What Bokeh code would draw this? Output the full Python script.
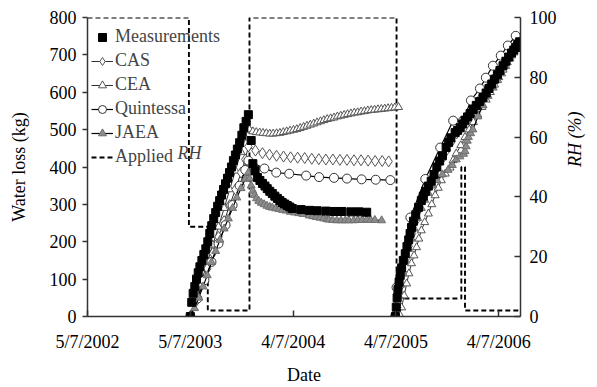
import math
from bokeh.plotting import figure
from bokeh.models import Range1d, LinearAxis, FixedTicker, Legend, LegendItem, Label
from bokeh.embed import file_html
from bokeh.resources import INLINE

# x values: days since 5/7/2002 (d/m/y)
tick_days = [0, 365, 730, 1095, 1460]
tick_labels = ["5/7/2002", "5/7/2003", "4/7/2004", "4/7/2005", "4/7/2006"]
kg_ticks = [0, 100, 200, 300, 400, 500, 600, 700, 800]
rh_ticks = [0, 20, 40, 60, 80, 100]

# Applied RH (%)
rh_day = [0, 360, 360, 427, 427, 575, 575, 1097, 1097, 1327, 1327, 1340, 1340, 1537]
rh_val = [100, 100, 30, 30, 2, 2, 100, 100, 6, 6, 50, 50, 2, 2]

# Measurements (kg)
meas_day_1 = [365, 370, 375, 381, 387, 393, 399, 406, 413, 420, 427, 434, 441, 448, 455, 462, 469, 476, 483,
              490, 497, 504, 511, 518, 525, 532, 540, 548, 555, 563, 571,
              581, 587, 595, 603, 612, 621, 630, 638, 647, 656, 665, 674, 683, 691, 700, 709, 718, 727,
              758, 787, 815, 846, 875, 903, 935, 963, 991]
meas_kg_1 = [0, 38, 62, 80, 100, 117, 133, 150, 166, 181, 200, 222, 243, 262, 278, 295, 310, 325, 340,
             355, 370, 385, 400, 417, 432, 448, 465, 485, 505, 522, 540,
             471, 409, 390, 372, 364, 356, 349, 342, 335, 329, 322, 316, 310, 305, 301, 297, 293, 289,
             286, 284, 283, 282, 281, 281, 280, 280, 279]
meas_day_2 = [1093, 1096, 1099, 1102, 1106, 1110, 1115, 1121, 1128, 1134, 1140, 1145, 1150, 1157, 1165, 1175,
              1185, 1192, 1200, 1210, 1220, 1230, 1240, 1250, 1260, 1273, 1282, 1290, 1305, 1314, 1323, 1332,
              1340, 1349, 1358, 1369, 1380, 1392, 1404, 1415, 1425, 1435, 1445, 1455, 1464, 1475, 1485, 1495,
              1505, 1513, 1520, 1527, 1534]
meas_kg_2 = [0, 25, 50, 72, 92, 110, 130, 150, 168, 187, 205, 222, 238, 255, 272, 292,
             310, 322, 335, 349, 362, 380, 400, 416, 430, 452, 466, 478, 492, 498, 505, 515,
             525, 534, 543, 554, 565, 575, 586, 598, 610, 622, 635, 647, 658, 671, 683, 694,
             705, 713, 720, 728, 735]

# CAS
cas_day_1 = [365, 385, 405, 425, 445, 465, 485, 505, 525, 545, 560, 571,
             596, 621, 646, 671, 696, 721, 746, 771, 796, 821, 846, 871, 896, 921, 946, 971, 996, 1021, 1046, 1069]
cas_kg_1 = [0, 40, 85, 128, 170, 213, 255, 298, 340, 385, 420, 455,
            444, 437, 433, 430, 428, 426, 425, 424, 422, 421, 420, 420, 419, 419, 418, 418, 417, 416, 416, 415]
cas_day_2 = [1093, 1100, 1110, 1120, 1130, 1140, 1152, 1165, 1180, 1195, 1210, 1225, 1240, 1258, 1275, 1292,
             1310, 1330, 1350, 1370, 1390, 1410, 1430, 1450, 1470, 1490, 1510, 1530]
cas_kg_2 = [0, 35, 80, 118, 155, 188, 222, 255, 290, 320, 348, 372, 395, 420, 445, 468,
            490, 512, 535, 557, 578, 600, 622, 645, 667, 690, 712, 733]

# CEA
cea_day_1 = [365, 385, 405, 425, 445, 465, 485, 505, 525, 545, 560, 571,
             575, 587, 599, 611, 623, 635, 647, 659, 671, 683, 695, 707, 719, 731, 743, 755, 767, 779, 791,
             803, 815, 827, 839, 851, 863, 875, 887, 899, 911, 923, 935, 947, 959, 971, 983, 995, 1007, 1019,
             1031, 1043, 1055, 1067, 1079, 1091, 1104]
cea_kg_1 = [0, 45, 95, 143, 192, 240, 290, 340, 390, 440, 478, 505,
            500, 495, 493, 492, 491, 490, 489, 489, 490, 491, 493, 495, 497, 499, 501, 504, 507, 510, 513,
            516, 519, 522, 525, 528, 530, 532, 535, 537, 539, 541, 543, 545, 546, 548, 549, 551, 552, 553,
            554, 555, 556, 557, 558, 559, 560]
cea_day_2 = [1093, 1100, 1108, 1115, 1124, 1133, 1141, 1150, 1159, 1168, 1176, 1185, 1197, 1210, 1222, 1234,
             1245, 1256, 1270, 1287, 1298, 1309, 1325, 1340, 1355, 1370, 1385, 1400, 1415, 1430, 1445, 1460,
             1475, 1490, 1505, 1520, 1535]
cea_kg_2 = [0, 0, 5, 24, 56, 88, 115, 142, 163, 185, 208, 230, 252, 275, 300, 324,
            344, 364, 382, 398, 418, 436, 458, 480, 500, 520, 540, 560, 580, 600, 620, 640,
            660, 680, 698, 715, 732]

# Quintessa
qui_day_1 = [365, 390, 415, 440, 465, 490, 515, 540, 560, 571,
             628, 670, 716, 776, 822, 875, 921, 973, 1023, 1075]
qui_kg_1 = [0, 48, 97, 146, 195, 245, 298, 350, 392, 417,
            396, 385, 382, 377, 373, 371, 369, 367, 366, 365]
qui_day_2 = [1092, 1097, 1146, 1199, 1252, 1298, 1333, 1361, 1393, 1414, 1439, 1467, 1492, 1520]
qui_kg_2 = [0, 78, 265, 368, 452, 524, 524, 578, 610, 639, 671, 698, 725, 751]

# JAEA
jaea_day_1 = [365, 380, 395, 410, 425, 440, 455, 470, 485, 500, 515, 530, 545, 560, 571,
              575, 581, 587, 593, 600, 608, 617, 627, 637, 647, 656, 668, 680, 692, 705, 720, 735, 750, 765,
              787, 800, 812, 825, 838, 850, 857, 870, 885, 900, 915, 928, 945, 960, 975, 991, 1005, 1020, 1044]
jaea_kg_1 = [0, 22, 50, 80, 110, 145, 175, 205, 235, 262, 290, 318, 343, 368, 385,
             369, 350, 336, 325, 316, 309, 304, 300, 296, 293, 291, 289, 287, 285, 283, 280, 278, 276, 274,
             270, 268, 266, 264, 262, 260, 259, 258, 257, 257, 257, 257, 257, 258, 258, 259, 258, 258, 257]
jaea_day_2 = [1093, 1099, 1105, 1112, 1120, 1130, 1140, 1150, 1160, 1172, 1185, 1197, 1210, 1225, 1240, 1260,
              1280, 1295, 1309, 1322, 1335, 1340, 1344, 1348, 1352, 1360, 1368, 1386, 1404, 1422, 1440, 1456,
              1470, 1485, 1500, 1514, 1527, 1536]
jaea_kg_2 = [0, 30, 55, 85, 115, 150, 180, 208, 235, 263, 290, 312, 330, 350, 365, 380,
             392, 405, 420, 428, 435, 442, 455, 470, 480, 490, 500, 535, 565, 590, 612, 632,
             650, 670, 690, 706, 722, 735]

FONT = "Liberation Serif"
NAN = float("nan")

p = figure(width=597, height=387, output_backend="svg", toolbar_location=None,
           x_range=Range1d(0, 1537), y_range=Range1d(0, 800),
           min_border_left=87, min_border_right=74, min_border_top=17, min_border_bottom=71)
p.outline_line_color = None
p.xgrid.grid_line_color = None
p.ygrid.grid_line_color = None
p.background_fill_color = "white"
p.extra_y_ranges = {"rh": Range1d(0, 100)}

AX = "#333333"
xa = p.xaxis[0]
xa.ticker = FixedTicker(ticks=tick_days)
xa.major_label_overrides = {d: l for d, l in zip(tick_days, tick_labels)}
xa.axis_label = "Date"
ya = p.yaxis[0]
ya.ticker = FixedTicker(ticks=kg_ticks)
ya.axis_label = "Water loss (kg)"
ra = LinearAxis(y_range_name="rh", ticker=FixedTicker(ticks=rh_ticks), axis_label="RH (%)")
p.add_layout(ra, "right")

for ax in (xa, ya, ra):
    ax.axis_line_color = AX
    ax.axis_line_width = 1.5
    ax.major_tick_line_color = AX
    ax.major_tick_line_width = 1.5
    ax.minor_tick_line_color = None
    ax.major_label_text_font = FONT
    ax.major_label_text_font_size = "18px"
    ax.major_label_text_color = "black"
    ax.axis_label_text_font = FONT
    ax.axis_label_text_font_size = "18px"
    ax.axis_label_text_font_style = "normal"
    ax.axis_label_text_color = "black"

ra.axis_label_text_font_style = "italic"
ra.axis_label_orientation = math.pi / 2
xa.major_tick_in = 6
xa.major_tick_out = 0
xa.major_label_standoff = 15
xa.axis_label_standoff = 10
ya.major_tick_in = 0
ya.major_tick_out = 5
ya.major_label_standoff = 6
ya.axis_label_standoff = 18
ra.major_tick_in = 6
ra.major_tick_out = 0
ra.major_label_standoff = 9
ra.axis_label_standoff = 15

def joined(a, b):
    return list(a) + [NAN] + list(b)

# Applied RH
r_rh = p.line(rh_day, rh_val, y_range_name="rh", line_color="black", line_width=1.9, line_dash="5 3")

# CEA
cx, cy = joined(cea_day_1, cea_day_2), joined(cea_kg_1, cea_kg_2)
l_cea = p.line(cx, cy, line_color="#333333", line_width=1)
s_cea = p.scatter(cx, cy, marker="triangle", size=8, fill_color="white", line_color="#555555", line_width=1)

# CAS
ax_, ay_ = joined(cas_day_1, cas_day_2), joined(cas_kg_1, cas_kg_2)
l_cas = p.line(ax_, ay_, line_color="#333333", line_width=1)
s_cas = p.scatter(ax_, ay_, marker="diamond", size=11, fill_color="white", line_color="#555555", line_width=1)

# Quintessa
qx, qy = joined(qui_day_1, qui_day_2), joined(qui_kg_1, qui_kg_2)
l_qui = p.line(qx, qy, line_color="black", line_width=1.2)
s_qui = p.scatter(qx, qy, marker="circle", size=9, fill_color="white", line_color="#333333", line_width=1)

# JAEA
jx, jy = joined(jaea_day_1, jaea_day_2), joined(jaea_kg_1, jaea_kg_2)
l_jaea = p.line(jx, jy, line_color="black", line_width=1.2)
s_jaea = p.scatter(jx, jy, marker="triangle", size=8, fill_color="#8c8c8c", line_color="#6e6e6e", line_width=1)

# Measurements
mx, my = joined(meas_day_1, meas_day_2), joined(meas_kg_1, meas_kg_2)
s_meas = p.scatter(mx, my, marker="square", size=8, fill_color="black", line_color="black")

legend = Legend(items=[
    LegendItem(label="Measurements", renderers=[s_meas]),
    LegendItem(label="CAS", renderers=[l_cas, s_cas]),
    LegendItem(label="CEA", renderers=[l_cea, s_cea]),
    LegendItem(label="Quintessa", renderers=[l_qui, s_qui]),
    LegendItem(label="JAEA", renderers=[l_jaea, s_jaea]),
    LegendItem(label="Applied", renderers=[r_rh]),
], location=(1, 146), margin=0, padding=3, spacing=3, glyph_height=20, glyph_width=22,
    label_standoff=2, label_height=20, label_text_font=FONT, label_text_font_size="18px",
    border_line_alpha=0, background_fill_alpha=0)
p.add_layout(legend)

# italic RH after "Applied" in legend
p.add_layout(Label(x=90, y=164, x_units="screen", y_units="screen", text="RH",
                   text_font=FONT, text_font_size="18px", text_font_style="italic",
                   text_baseline="middle", text_align="left"))

open("out.html", "w").write(file_html(p, INLINE))
